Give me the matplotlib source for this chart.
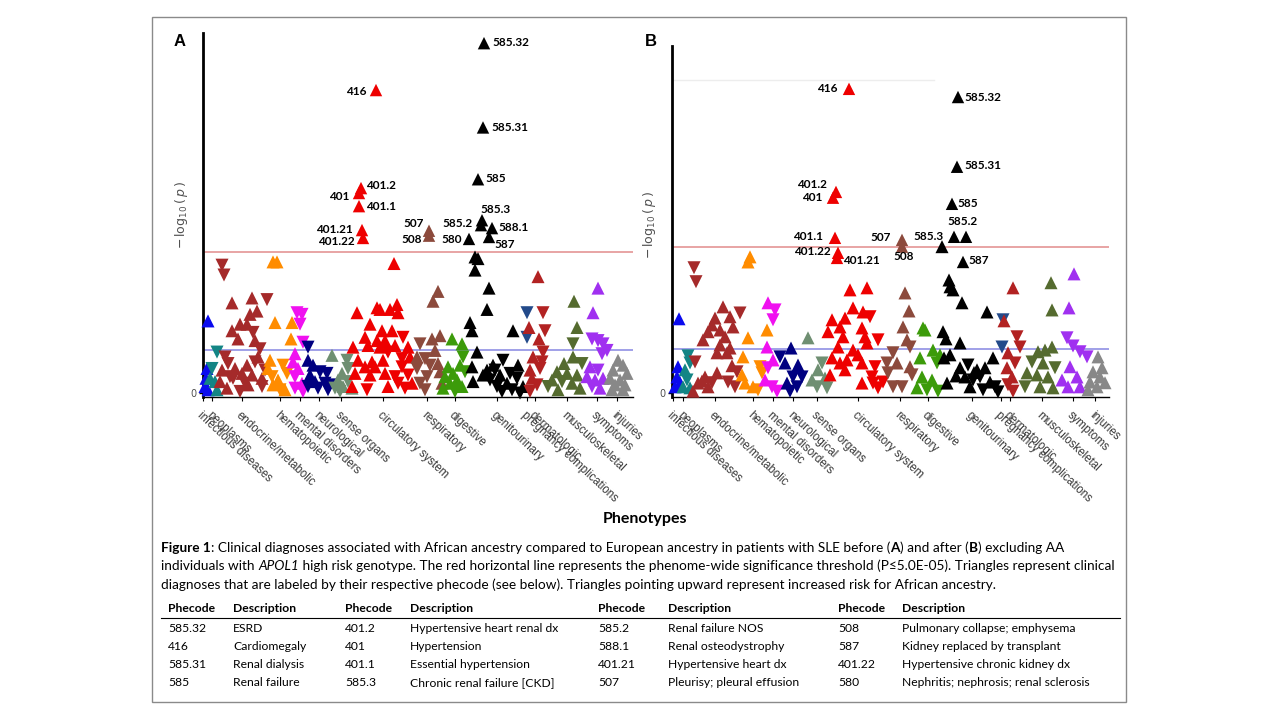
import matplotlib
matplotlib.use("Agg")
import matplotlib.pyplot as plt
from matplotlib.patches import Rectangle

# -------------------- DATA --------------------
# point lists: (position along phenotype axis, -log10(p), direction u=up / d=down)

categories = ["infectious diseases", "neoplasms", "endocrine/metabolic", "hematopoietic",
              "mental disorders", "neurological", "sense organs", "circulatory system",
              "respiratory", "digestive", "genitourinary", "pregnancy complications",
              "dermatologic", "musculoskeletal", "symptoms", "injuries"]

cat_colors = ["#0a0aee", "#138585", "#a52a2a", "#ff8c00", "#f010f0", "#000080", "#6f8f72",
              "#ee0000", "#8c4a3c", "#3c9b0a", "#000000", "#234a8a", "#b22222", "#556b2f",
              "#a030f0", "#888888"]

ticks_A = [0, 9, 39, 77, 97, 116, 138, 180, 224, 252, 294, 324, 332, 364, 394, 414]
ticks_B = [1, 11, 43, 81, 101, 121, 145, 186, 228, 256, 300, 329, 338, 370, 401, 423]

threshold = 4.3      # P <= 5.0E-05
nominal = 1.3        # P <= 0.05

# ---- panel A ----
A_infectious = [(5, 2.2, 'u'), (4, 0.75, 'u'), (3, 0.45, 'u'), (2, 0.2, 'u'), (5, 0.1, 'u')]
A_neoplasms = [(14, 1.25, 'd'), (9, 0.75, 'd'), (7, 0.45, 'u'), (12, 0.35, 'u'), (14, 0.1, 'u')]
A_endocrine = [(19, 3.9, 'd'), (21, 3.6, 'd'), (29, 2.75, 'u'), (49, 2.9, 'u'), (64, 2.85, 'd'),
               (54, 2.5, 'u'), (47, 2.4, 'u'), (37, 2.1, 'u'), (44, 2.1, 'u'), (29, 1.9, 'u'),
               (35, 1.65, 'u'), (50, 1.85, 'd'), (52, 1.6, 'u'), (57, 1.35, 'd'), (22, 1.1, 'd'),
               (55, 1.1, 'u'), (25, 0.9, 'd'), (44, 0.85, 'u'), (32, 0.75, 'u'), (19, 0.7, 'u'),
               (39, 0.6, 'u'), (49, 0.55, 'u'), (30, 0.45, 'd'), (59, 0.45, 'u'), (17, 0.35, 'u'),
               (42, 0.3, 'd'), (59, 0.2, 'd'), (24, 0.15, 'u'), (37, 0.05, 'd'), (45, 0.25, 'u'),
               (27, 0.5, 'd'), (52, 0.95, 'd'), (62, 0.7, 'd')]
A_hemato = [(70, 4.0, 'u'), (74, 4.0, 'u'), (72, 2.15, 'u'), (89, 2.15, 'u'), (88, 1.65, 'u'),
            (67, 1.0, 'u'), (65, 0.75, 'u'), (80, 0.85, 'd'), (84, 0.6, 'd'), (69, 0.5, 'd'),
            (70, 0.25, 'u'), (77, 0.1, 'd'), (82, 0.1, 'u'), (75, 0.4, 'u')]
A_mental = [(94, 2.45, 'd'), (99, 2.4, 'd'), (97, 2.1, 'd'), (100, 1.55, 'd'), (92, 1.2, 'u'),
            (90, 0.95, 'u'), (95, 0.75, 'u'), (92, 0.5, 'd'), (99, 0.3, 'u'), (92, 0.15, 'd'),
            (100, 0.05, 'd')]
A_neuro = [(105, 1.4, 'd'), (105, 1.0, 'u'), (110, 0.85, 'u'), (117, 0.65, 'd'), (124, 0.6, 'd'),
           (107, 0.55, 'u'), (112, 0.35, 'u'), (122, 0.3, 'd'), (127, 0.25, 'd'), (105, 0.2, 'd'),
           (115, 0.15, 'd'), (125, 0.1, 'd')]
A_sense = [(129, 1.15, 'u'), (144, 1.0, 'd'), (145, 0.75, 'd'), (139, 0.6, 'u'), (135, 0.4, 'u'),
           (145, 0.35, 'd'), (140, 0.2, 'u'), (132, 0.15, 'd'), (149, 0.15, 'u'), (137, 0.05, 'd')]
A_circ = [(191, 3.95, 'u'), (154, 2.45, 'u'), (174, 2.6, 'u'), (177, 2.55, 'u'), (187, 2.55, 'u'),
          (194, 2.7, 'u'), (195, 2.45, 'u'), (167, 2.1, 'u'), (179, 1.9, 'u'), (189, 1.9, 'u'),
          (162, 1.7, 'u'), (200, 1.7, 'd'), (174, 1.6, 'u'), (182, 1.6, 'u'), (150, 1.4, 'u'),
          (165, 1.45, 'u'), (177, 1.4, 'u'), (192, 1.45, 'u'), (205, 1.4, 'u'), (185, 1.25, 'd'),
          (155, 1.0, 'u'), (169, 0.95, 'u'), (180, 1.0, 'u'), (199, 1.05, 'd'), (207, 1.1, 'u'),
          (162, 0.8, 'u'), (172, 0.8, 'u'), (152, 0.6, 'u'), (182, 0.6, 'u'), (199, 0.8, 'd'),
          (167, 0.55, 'u'), (192, 0.5, 'd'), (205, 0.55, 'd'), (149, 0.2, 'u'), (164, 0.1, 'd'),
          (185, 0.2, 'u'), (195, 0.3, 'd'), (209, 0.3, 'u'), (202, 0.15, 'd')]
A_resp = [(235, 3.1, 'u'), (230, 2.8, 'u'), (217, 1.5, 'd'), (229, 1.65, 'u'), (237, 1.75, 'u'),
          (232, 1.3, 'u'), (214, 1.1, 'u'), (222, 1.05, 'd'), (235, 0.9, 'u'), (227, 0.85, 'd'),
          (214, 0.75, 'd'), (237, 0.65, 'u'), (224, 0.5, 'd'), (217, 0.3, 'd'), (222, 0.1, 'd'),
          (239, 0.3, 'u')]
A_digest = [(249, 1.65, 'u'), (259, 1.5, 'u'), (260, 1.1, 'd'), (245, 0.8, 'u'), (257, 0.85, 'u'),
            (250, 0.6, 'u'), (242, 0.5, 'u'), (262, 0.65, 'd'), (254, 0.4, 'u'), (247, 0.3, 'u'),
            (259, 0.2, 'u'), (252, 0.05, 'd'), (240, 0.15, 'u')]
A_genito = [(272, 4.15, 'u'), (275, 4.1, 'u'), (272, 3.75, 'u'), (286, 3.2, 'u'), (284, 2.55, 'u'),
            (267, 2.15, 'u'), (269, 1.9, 'u'), (310, 1.9, 'u'), (274, 1.25, 'u'), (269, 0.8, 'u'),
            (270, 0.35, 'u'), (284, 0.7, 'u'), (290, 0.85, 'u'), (300, 1.0, 'd'), (315, 0.85, 'u'),
            (297, 0.55, 'u'), (307, 0.6, 'd'), (287, 0.4, 'd'), (294, 0.2, 'd'), (304, 0.3, 'u'),
            (314, 0.45, 'd'), (320, 0.2, 'u'), (299, 0.05, 'd'), (309, 0.1, 'd'), (317, 0.0, 'd'),
            (292, 0.7, 'd'), (280, 0.55, 'u')]
A_preg = [(324, 2.45, 'd'), (324, 1.7, 'd')]
A_derm = [(335, 3.55, 'u'), (340, 2.45, 'd'), (326, 2.0, 'u'), (342, 1.9, 'd'), (336, 1.65, 'u'),
          (340, 1.25, 'd'), (330, 1.1, 'u'), (339, 0.95, 'd'), (327, 0.7, 'u'), (337, 0.75, 'd'),
          (329, 0.45, 'u'), (334, 0.25, 'd'), (327, 0.05, 'd')]
A_musc = [(371, 2.8, 'u'), (374, 2.0, 'u'), (370, 1.5, 'd'), (361, 0.9, 'u'), (370, 1.1, 'u'),
          (379, 0.9, 'd'), (354, 0.65, 'u'), (364, 0.6, 'u'), (374, 0.55, 'u'), (349, 0.4, 'u'),
          (359, 0.35, 'd'), (369, 0.3, 'u'), (345, 0.2, 'd'), (355, 0.1, 'u'), (377, 0.15, 'u')]
A_sympt = [(395, 3.2, 'u'), (390, 2.45, 'u'), (389, 1.65, 'd'), (395, 1.6, 'd'), (400, 1.5, 'd'),
           (404, 1.3, 'd'), (399, 1.2, 'd'), (387, 0.8, 'u'), (395, 0.7, 'd'), (384, 0.5, 'u'),
           (392, 0.4, 'u'), (400, 0.45, 'u'), (389, 0.2, 'd'), (397, 0.15, 'u')]
A_injur = [(415, 1.0, 'u'), (420, 0.85, 'u'), (410, 0.7, 'u'), (424, 0.6, 'u'), (407, 0.45, 'u'),
           (417, 0.4, 'u'), (412, 0.25, 'u'), (422, 0.25, 'u'), (409, 0.1, 'u'), (420, 0.1, 'u')]

# labelled phecodes: (phecode, position, -log10(p), category index)
A_labeled = [("585.32", 281, 10.67, 10), ("416", 173, 9.24, 7), ("585.31", 280, 8.1, 10),
             ("585", 275, 6.52, 10), ("401.2", 158, 6.25, 7), ("401", 156, 6.1, 7),
             ("401.1", 156, 5.7, 7), ("401.21", 159, 4.97, 7), ("401.22", 160, 4.73, 7),
             ("507", 226, 4.95, 8), ("508", 226, 4.8, 8), ("585.3", 279, 5.27, 10),
             ("585.2", 278, 5.12, 10), ("588.1", 289, 5.03, 10), ("580", 266, 4.7, 10),
             ("587", 286, 4.76, 10)]

# ---- panel B ----
B_infectious = [(7, 2.18, 'u'), (6, 0.77, 'u'), (5, 0.47, 'u'), (3, 0.18, 'u'), (8, 0.3, 'u')]
B_neoplasms = [(16, 1.09, 'd'), (18, 0.88, 'd'), (13, 0.68, 'u'), (15, 0.38, 'd'), (11, 0.18, 'u'),
               (18, 0.15, 'u')]
B_endocrine = [(22, 3.68, 'd'), (24, 3.27, 'd'), (51, 2.53, 'u'), (68, 2.35, 'd'), (43, 2.2, 'u'),
               (58, 2.24, 'u'), (40, 2.0, 'u'), (61, 1.94, 'u'), (36, 1.8, 'u'), (48, 1.85, 'u'),
               (31, 1.56, 'u'), (53, 1.65, 'u'), (48, 1.41, 'u'), (58, 1.32, 'u'), (45, 1.18, 'u'),
               (55, 1.18, 'u'), (23, 0.91, 'd'), (45, 0.59, 'u'), (65, 0.62, 'd'), (33, 0.47, 'u'),
               (26, 0.29, 'u'), (36, 0.18, 'u'), (56, 0.32, 'd'), (63, 0.18, 'd'), (21, 0.05, 'u'),
               (30, 0.35, 'u'), (40, 0.3, 'd'), (60, 0.8, 'u')]
B_hemato = [(78, 4.0, 'u'), (76, 3.85, 'u'), (95, 1.85, 'u'), (76, 1.62, 'u'), (71, 1.06, 'u'),
            (88, 0.77, 'd'), (90, 0.59, 'd'), (70, 0.53, 'u'), (73, 0.29, 'u'), (81, 0.18, 'u'),
            (86, 0.09, 'd')]
B_mental = [(96, 2.65, 'u'), (103, 2.44, 'd'), (101, 2.15, 'd'), (95, 1.35, 'u'), (101, 0.97, 'u'),
            (96, 0.74, 'd'), (93, 0.38, 'u'), (100, 0.18, 'd'), (105, 0.05, 'd')]
B_neuro = [(119, 1.32, 'u'), (108, 1.06, 'd'), (126, 0.82, 'u'), (113, 0.88, 'u'), (121, 0.47, 'd'),
           (130, 0.47, 'd'), (115, 0.29, 'u'), (125, 0.18, 'd'), (118, 0.05, 'd')]
B_sense = [(136, 1.62, 'u'), (150, 0.88, 'd'), (146, 0.68, 'u'), (140, 0.38, 'u'), (153, 0.44, 'u'),
           (145, 0.18, 'd'), (155, 0.15, 'd')]
B_circ = [(178, 3.03, 'u'), (195, 3.09, 'u'), (181, 2.5, 'u'), (191, 2.38, 'u'), (198, 2.24, 'd'),
          (160, 2.15, 'u'), (173, 2.2, 'u'), (168, 1.94, 'u'), (190, 1.91, 'u'), (156, 1.8, 'u'),
          (171, 1.65, 'u'), (193, 1.65, 'u'), (206, 1.56, 'd'), (166, 1.35, 'u'), (195, 1.47, 'u'),
          (181, 1.26, 'u'), (160, 1.03, 'u'), (175, 0.97, 'u'), (186, 1.12, 'u'), (168, 0.88, 'u'),
          (190, 0.88, 'u'), (203, 0.77, 'd'), (158, 0.53, 'u'), (173, 0.68, 'u'), (200, 0.47, 'd'),
          (190, 0.29, 'u'), (206, 0.15, 'd'), (211, 0.32, 'd'), (201, 0.29, 'd')]
B_resp = [(233, 2.94, 'u'), (237, 2.41, 'u'), (231, 1.94, 'u'), (235, 1.56, 'u'), (238, 1.35, 'd'),
          (221, 1.18, 'd'), (215, 0.88, 'd'), (225, 0.88, 'u'), (238, 0.77, 'u'), (216, 0.59, 'd'),
          (240, 0.53, 'd'), (221, 0.18, 'd'), (230, 0.18, 'd')]
B_digest = [(251, 1.91, 'u'), (248, 1.03, 'u'), (261, 1.26, 'u'), (268, 1.12, 'u'), (265, 0.88, 'd'),
            (250, 0.47, 'u'), (260, 0.38, 'u'), (255, 0.09, 'd'), (245, 0.15, 'u'), (266, 0.05, 'd'),
            (253, 1.85, 'u')]
B_genito = [(277, 3.32, 'u'), (278, 3.12, 'u'), (281, 3.03, 'u'), (290, 2.65, 'u'), (315, 2.38, 'u'),
            (271, 1.8, 'u'), (274, 1.59, 'u'), (288, 1.47, 'u'), (278, 1.12, 'u'), (272, 1.03, 'u'),
            (321, 1.03, 'u'), (288, 0.74, 'u'), (296, 0.82, 'd'), (305, 0.68, 'u'), (313, 0.74, 'u'),
            (293, 0.47, 'u'), (301, 0.38, 'd'), (308, 0.47, 'd'), (318, 0.32, 'u'), (323, 0.18, 'd'),
            (298, 0.18, 'u'), (311, 0.09, 'd'), (326, 0.03, 'd'), (275, 0.29, 'u'), (302, 0.6, 'u'),
            (284, 0.5, 'u'), (270, 4.3, 'u')]
B_preg = [(331, 2.15, 'd'), (330, 1.35, 'd')]
B_derm = [(341, 3.09, 'u'), (332, 2.12, 'u'), (345, 1.65, 'd'), (348, 1.35, 'd'), (336, 1.18, 'u'),
          (343, 0.88, 'd'), (335, 0.74, 'u'), (340, 0.47, 'u'), (336, 0.24, 'd'), (341, 0.05, 'd')]
B_musc = [(379, 3.24, 'u'), (380, 2.44, 'u'), (380, 1.35, 'u'), (373, 1.26, 'u'), (366, 1.21, 'u'),
          (360, 0.91, 'd'), (371, 0.88, 'u'), (383, 0.74, 'd'), (355, 0.59, 'u'), (365, 0.53, 'u'),
          (376, 0.47, 'u'), (353, 0.18, 'd'), (368, 0.18, 'u'), (381, 0.15, 'u')]
B_sympt = [(402, 3.5, 'u'), (397, 2.5, 'u'), (395, 1.62, 'd'), (401, 1.38, 'd'), (408, 1.21, 'd'),
           (415, 1.06, 'd'), (398, 0.77, 'u'), (390, 0.38, 'u'), (405, 0.47, 'u'), (396, 0.18, 'u'),
           (408, 0.18, 'u')]
B_injur = [(426, 1.06, 'u'), (430, 0.74, 'u'), (421, 0.62, 'u'), (428, 0.47, 'u'), (418, 0.32, 'u'),
           (425, 0.18, 'u'), (433, 0.3, 'u'), (416, 0.09, 'u')]

B_labeled = [("416", 177, 8.94, 7), ("585.32", 286, 8.7, 10), ("585.31", 285, 6.65, 10),
             ("401.2", 164, 5.91, 7), ("401", 161, 5.74, 7), ("585", 280, 5.56, 10),
             ("401.1", 163, 4.56, 7), ("507", 230, 4.5, 8), ("585.3", 282, 4.59, 10),
             ("585.2", 294, 4.59, 10), ("401.22", 166, 4.12, 7), ("401.21", 165, 3.97, 7),
             ("508", 230, 4.3, 8), ("587", 291, 3.85, 10)]

A_points = [A_infectious, A_neoplasms, A_endocrine, A_hemato, A_mental, A_neuro, A_sense, A_circ,
            A_resp, A_digest, A_genito, A_preg, A_derm, A_musc, A_sympt, A_injur]
B_points = [B_infectious, B_neoplasms, B_endocrine, B_hemato, B_mental, B_neuro, B_sense, B_circ,
            B_resp, B_digest, B_genito, B_preg, B_derm, B_musc, B_sympt, B_injur]

# label placement (pixel offsets from the triangle, alignment)
A_label_pos = {"585.32": (8, 1, 'left'), "416": (-9, -1, 'right'), "585.31": (8, 0, 'left'),
               "585": (7, 1, 'left'), "401.2": (5, 3, 'left'), "401": (-10, -3, 'right'),
               "401.1": (7, 0, 'left'), "401.21": (-9, 1, 'right'), "401.22": (-8, -4, 'right'),
               "507": (-5, 7, 'right'), "508": (-7, -4, 'right'), "585.3": (-2, 11, 'left'),
               "585.2": (-8, 2, 'right'), "588.1": (6, 1, 'left'), "580": (-7, -1, 'right'),
               "587": (5, -8, 'left')}
B_label_pos = {"416": (-11, 0, 'right'), "585.32": (6, 0, 'left'), "585.31": (7, 1, 'left'),
               "401.2": (-9, 7, 'right'), "401": (-11, 0, 'right'), "585": (5, 0, 'left'),
               "401.1": (-12, 1, 'right'), "507": (-11, 2, 'right'), "585.3": (-10, 0, 'right'),
               "585.2": (-3, 15, 'center'), "401.22": (-7, 1, 'right'), "401.21": (6, -3, 'left'),
               "508": (2, -10, 'center'), "587": (5, 1, 'left')}

table_header = ["Phecode", "Description"] * 4
table_rows = [
    ["585.32", "ESRD", "401.2", "Hypertensive heart renal dx", "585.2", "Renal failure NOS",
     "508", "Pulmonary collapse; emphysema"],
    ["416", "Cardiomegaly", "401", "Hypertension", "588.1", "Renal osteodystrophy",
     "587", "Kidney replaced by transplant"],
    ["585.31", "Renal dialysis", "401.1", "Essential hypertension", "401.21", "Hypertensive heart dx",
     "401.22", "Hypertensive chronic kidney dx"],
    ["585", "Renal failure", "585.3", "Chronic renal failure [CKD]", "507", "Pleurisy; pleural effusion",
     "580", "Nephritis; nephrosis; renal sclerosis"],
]

# -------------------- FIGURE --------------------
W, H = 1280, 720
fig = plt.figure(figsize=(12.8, 7.2), dpi=100)
body_font = ["Lato", "DejaVu Sans"]


def fx(px):
    return px / W


def fy(py):
    return 1 - py / H


# outer frame
fig.patches.append(Rectangle((fx(152), fy(702)), fx(1126) - fx(152), fy(17) - fy(702),
                             transform=fig.transFigure, fill=False, edgecolor="#8a8a8a", lw=1.0))


def draw_panel(rect, points, labeled, label_pos, ticks, xmax, ymax, letter, letter_xy, ylab_xy):
    ax = fig.add_axes(rect)
    for pts, col in zip(points, cat_colors):
        for d, mk in (('u', '^'), ('d', 'v')):
            xs = [p[0] for p in pts if p[2] == d]
            ys = [p[1] for p in pts if p[2] == d]
            if xs:
                ax.scatter(xs, ys, marker=mk, s=88, color=col, edgecolors='none',
                           clip_on=False, zorder=3)
    for code, x, y, ci in labeled:
        ax.scatter([x], [y], marker='^', s=80, color=cat_colors[ci], edgecolors='none',
                   clip_on=False, zorder=4)
        dx, dy, ha = label_pos[code]
        ax.annotate(code, (x, y), xytext=(dx, dy), textcoords='offset pixels', ha=ha,
                    va='center', fontsize=8.5, fontweight='bold', family=body_font, zorder=5)

    ax.axhline(threshold, color="#e8a4a4", lw=1.4, zorder=1)
    ax.axhline(nominal, color="#a0a0e8", lw=1.4, zorder=1)

    ax.set_xlim(0, xmax)
    ax.set_ylim(-0.12, ymax)
    for s in ("top", "right"):
        ax.spines[s].set_visible(False)
    ax.spines["left"].set_linewidth(2.0)
    ax.spines["bottom"].set_linewidth(1.0)
    ax.set_yticks([0])
    ax.set_yticklabels(["0"])
    ax.tick_params(axis='y', length=3, width=1, labelsize=7, labelcolor="#505050", pad=2)
    ax.set_xticks(ticks)
    ax.set_xticklabels(categories)
    ax.tick_params(axis='x', length=3, width=0.8, pad=6, labelsize=8.3, labelcolor="#383838")
    for lab in ax.get_xticklabels():
        lab.set_rotation(-43)
        lab.set_ha('left')
        lab.set_va('top')
        lab.set_rotation_mode('anchor')
        lab.set_family(["Liberation Sans", "DejaVu Sans"])

    fig.text(fx(letter_xy[0]), fy(letter_xy[1]), letter, fontsize=12, fontweight='bold',
             family=["Liberation Sans"], ha='center', va='center')
    fig.text(fx(ylab_xy[0]), fy(ylab_xy[1]), r"$-\,\log_{10}(\,p\,)$", rotation=90,
             fontsize=9, color="#505050", ha='center', va='center')
    return ax


axA = draw_panel([fx(203), fy(397), fx(633) - fx(203), fy(33) - fy(397)],
                 A_points, A_labeled, A_label_pos, ticks_A, 430, 10.98, "A", (180, 42), (181, 215))
axB = draw_panel([fx(672), fy(397), fx(1109) - fx(672), fy(46) - fy(397)],
                 B_points, B_labeled, B_label_pos, ticks_B, 437, 10.2, "B", (651, 42), (650, 225))
# faint gridline remnant in panel B
axB.axhline(9.2, xmin=0, xmax=0.6, color="#ededed", lw=1.0, zorder=0)

fig.text(fx(645), fy(519), "Phenotypes", fontsize=11.5, fontweight='bold', family=body_font,
         ha='center', va='center')

# -------------------- CAPTION --------------------
renderer = fig.canvas.get_renderer()


def draw_rich(x_px, y_px, parts, size):
    x = x_px
    for txt, weight, style in parts:
        t = fig.text(fx(x), fy(y_px), txt, fontsize=size, fontweight=weight, fontstyle=style,
                     family=body_font, ha='left', va='center')
        x += t.get_window_extent(renderer).width


cap_size = 9.8
draw_rich(161, 548, [("Figure 1", 'bold', 'normal'),
                     (": Clinical diagnoses associated with African ancestry compared to European ancestry "
                      "in patients with SLE before (", 'normal', 'normal'),
                     ("A", 'bold', 'normal'), (") and after (", 'normal', 'normal'),
                     ("B", 'bold', 'normal'), (") excluding AA", 'normal', 'normal')], cap_size)
draw_rich(161, 566, [("individuals with ", 'normal', 'normal'), ("APOL1", 'normal', 'italic'),
                     (" high risk genotype. The red horizontal line represents the phenome-wide significance "
                      "threshold (P\u22645.0E-05). Triangles represent clinical", 'normal', 'normal')], cap_size)
draw_rich(161, 585, [("diagnoses that are labeled by their respective phecode (see below). Triangles pointing "
                      "upward represent increased risk for African ancestry.", 'normal', 'normal')], cap_size)

# -------------------- TABLE --------------------
col_x = [168, 233, 345, 410, 598, 668, 838, 902]
for cx, h in zip(col_x, table_header):
    fig.text(fx(cx), fy(608), h, fontsize=8.7, fontweight='bold', family=body_font, va='center')
fig.lines.append(plt.Line2D([fx(161), fx(1120)], [fy(618), fy(618)], transform=fig.transFigure,
                            color='black', lw=0.8))
for r, row in enumerate(table_rows):
    for cx, cell in zip(col_x, row):
        fig.text(fx(cx), fy(629 + r * 17.7), cell, fontsize=8.7, family=body_font, va='center')

fig.savefig("out.png", dpi=100)
